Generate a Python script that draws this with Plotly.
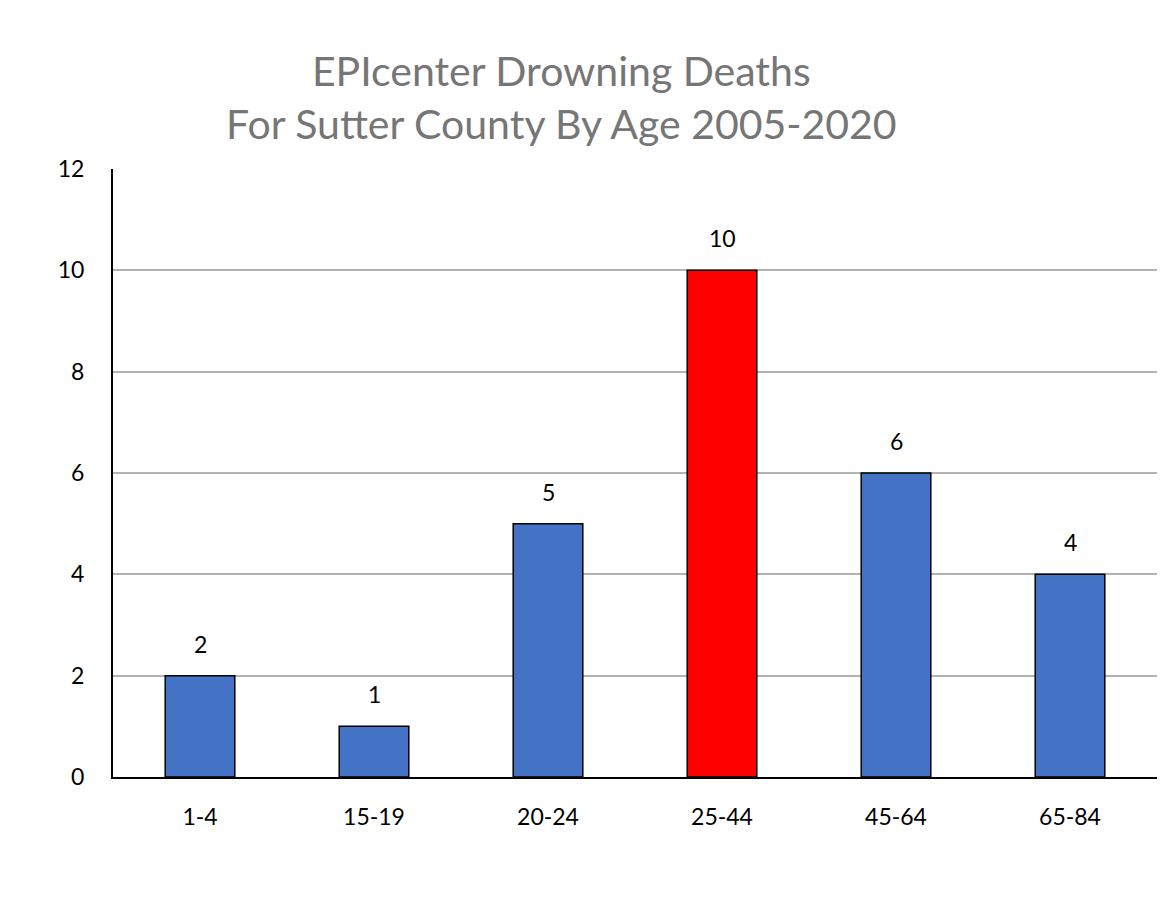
import plotly.graph_objects as go

categories = ["1-4", "15-19", "20-24", "25-44", "45-64", "65-84"]
deaths = [2, 1, 5, 10, 6, 4]
bar_colors = ["#4472C4", "#4472C4", "#4472C4", "#FF0000", "#4472C4", "#4472C4"]
y_ticks = [0, 2, 4, 6, 8, 10, 12]

font_family = "Lato, Open Sans, sans-serif"

L, R, T, B = 105, 26, 161, 133
W, H = 1175, 902
plot_w = W - L - R
plot_h = H - T - B

fig = go.Figure()
fig.add_trace(go.Bar(
    x=categories,
    y=deaths,
    marker=dict(color=bar_colors, line=dict(color="black", width=1.5)),
    width=0.4,
))

annotations = [dict(
    text="EPIcenter Drowning Deaths<br>For Sutter County By Age 2005-2020",
    x=(553 - L) / plot_w, xref="paper",
    y=1 + (T - 89) / plot_h, yref="paper",
    xanchor="center", yanchor="middle",
    showarrow=False,
    font=dict(size=41, color="#767676", family=font_family),
)]
for c, v in zip(categories, deaths):
    annotations.append(dict(
        x=c, y=v, xref="x", yref="y", text=str(v),
        showarrow=False, yanchor="middle", yshift=32,
        font=dict(size=23, color="black", family=font_family),
    ))

fig.update_layout(
    width=W, height=H,
    margin=dict(l=L, r=R, t=T, b=B),
    paper_bgcolor="white", plot_bgcolor="white",
    showlegend=False,
    font=dict(family=font_family, size=23, color="black"),
    annotations=annotations,
)

fig.update_xaxes(
    showline=True, linecolor="black", linewidth=2,
    ticks="", ticklabelstandoff=18,
    tickfont=dict(size=23, color="black"),
    showgrid=False,
)
fig.update_yaxes(
    range=[0, 12], tickvals=y_ticks,
    showline=True, linecolor="black", linewidth=2,
    showgrid=True, gridcolor="#b3b3b3", gridwidth=1.5,
    ticks="", ticklabelstandoff=22,
    tickfont=dict(size=23, color="black"),
    zeroline=False,
)

fig.write_html("out.html")
